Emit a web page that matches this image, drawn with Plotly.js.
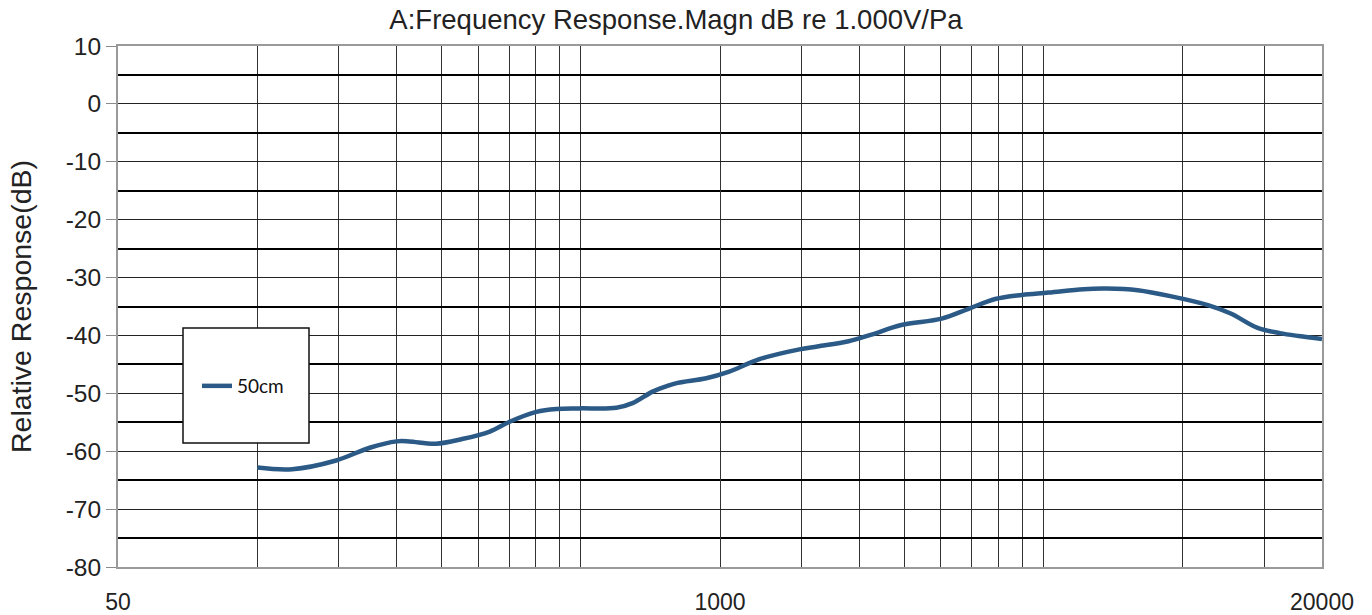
<!DOCTYPE html>
<html>
<head>
<meta charset="utf-8">
<script src="https://cdn.plot.ly/plotly-3.0.1.min.js"></script>
<style>
  html, body { margin: 0; padding: 0; background: #fff; }
  #chart { width: 1372px; height: 615px; }
</style>
</head>
<body>
<div id="chart"></div>
<script>
const freqHz = [100, 119, 148, 175, 200, 213, 243, 277, 318, 351, 401, 443, 497, 597, 647, 715, 765, 810, 934, 1043, 1217, 1485, 1623, 1897, 2115, 2466, 3013, 3445, 3934, 4491, 5130, 6105, 6851, 7993, 9512, 11380, 12700, 14520, 16220, 17800, 20000];
const respDb = [-62.8, -63.1, -61.6, -59.4, -58.3, -58.3, -58.7, -57.9, -56.6, -54.9, -53.2, -52.7, -52.6, -52.5, -51.7, -49.7, -48.8, -48.2, -47.4, -46.3, -44.1, -42.4, -41.9, -41.0, -39.9, -38.2, -37.1, -35.4, -33.7, -33.0, -32.6, -32.0, -31.9, -32.2, -33.3, -34.8, -36.2, -38.7, -39.6, -40.1, -40.6];
const seriesName = "50cm";

// Axis ticks / gridlines
const xLabelVals = [50, 1000, 20000];
const xLabelText = ["50", "1000", "20000"];
const xGridVals = [100, 150, 200, 250, 300, 350, 400, 450, 500, 1500, 2000, 2500, 3000, 3500, 4000, 4500, 5000, 10000, 15000];
const yTickVals = [10, 0, -10, -20, -30, -40, -50, -60, -70, -80];
const yTickText = ["10", "0", "-10", "-20", "-30", "-40", "-50", "-60", "-70", "-80"];
const yRange = [-80, 10];

const titleText = "A:Frequency Response.Magn dB re 1.000V/Pa";
const yTitleText = "Relative Response(dB)";

const FONT = "Liberation Sans, Arial, sans-serif";

const trace = {
  x: freqHz,
  y: respDb,
  name: seriesName,
  type: "scatter",
  mode: "lines",
  line: { color: "#2c5a87", width: 4.5, shape: "spline", smoothing: 1 }
};

const layout = {
  width: 1372,
  height: 615,
  margin: { l: 118, r: 50, t: 46, b: 48 },
  paper_bgcolor: "#fff",
  plot_bgcolor: "#fff",
  font: { family: FONT, color: "#222" },
  title: {
    text: titleText,
    font: { family: FONT, size: 27.5, color: "#222" },
    x: 676 / 1372, xanchor: "center",
    xref: "container",
    y: 1 - 19 / 615, yref: "container", yanchor: "middle"
  },
  xaxis: {
    type: "log",
    range: [Math.log10(50), Math.log10(20000)],
    tickmode: "array",
    tickvals: xLabelVals,
    ticktext: xLabelText,
    ticks: "",
    ticklabelstandoff: 13,
    tickfont: { family: FONT, size: 23, color: "#222" },
    showgrid: true,
    gridcolor: "#333",
    gridwidth: 1,
    minor: {
      tickmode: "array",
      tickvals: xGridVals,
      showgrid: true,
      gridcolor: "#333",
      gridwidth: 1,
      ticks: ""
    },
    showline: true,
    linecolor: "#9a9a9a",
    linewidth: 2,
    mirror: true,
    zeroline: false,
    fixedrange: true
  },
  yaxis: {
    range: yRange,
    tickmode: "array",
    tickvals: yTickVals,
    ticktext: yTickText,
    ticks: "outside",
    ticklen: 10,
    tickcolor: "#8a8a8a",
    tickwidth: 1,
    tickfont: { family: FONT, size: 24.5, color: "#222" },
    showgrid: true,
    gridcolor: "#222",
    gridwidth: 1,
    minor: {
      tick0: 5,
      dtick: 10,
      showgrid: true,
      gridcolor: "#000",
      gridwidth: 2,
      ticks: ""
    },
    showline: true,
    linecolor: "#9a9a9a",
    linewidth: 2,
    mirror: true,
    zeroline: false,
    title: {
      text: yTitleText,
      font: { family: FONT, size: 28.5, color: "#222" },
      standoff: 26
    },
    fixedrange: true
  },
  showlegend: true,
  legend: {
    x: (197 - 118) / 1204,
    xanchor: "left",
    y: (567 - 386) / 521,
    yanchor: "middle",
    bgcolor: "rgba(0,0,0,0)",
    borderwidth: 0,
    font: { family: "Lato, Open Sans, sans-serif", size: 19, color: "#111" }
  },
  shapes: [
    {
      type: "rect",
      xref: "paper", yref: "paper",
      x0: (183 - 118) / 1204, x1: (309 - 118) / 1204,
      y0: (567 - 443) / 521, y1: (567 - 328) / 521,
      line: { color: "#111", width: 1.5 },
      fillcolor: "#fff",
      layer: "above"
    }
  ]
};

Plotly.newPlot("chart", [trace], layout, { staticPlot: true, displayModeBar: false });
</script>
</body>
</html>
